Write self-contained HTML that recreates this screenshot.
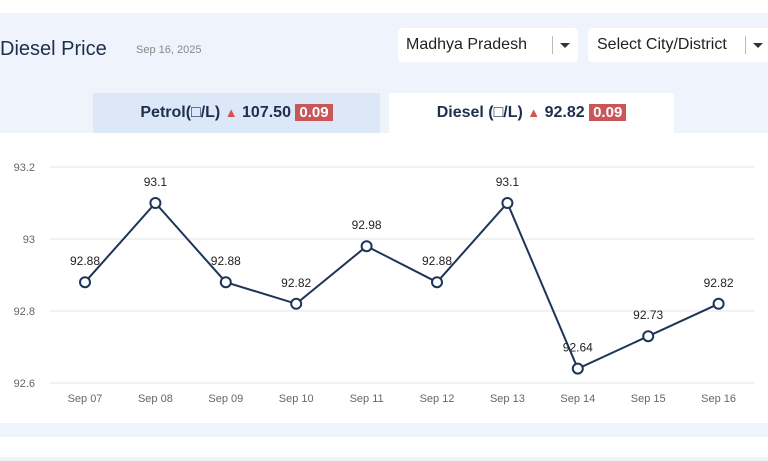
<!DOCTYPE html>
<html><head><meta charset="utf-8"><style>
body{margin:0;width:768px;height:461px;background:#fff;font-family:"Liberation Sans",sans-serif;position:relative;overflow:hidden}
.abs{position:absolute}
</style></head><body>
<div class="abs" style="left:0;top:13px;width:768px;height:120px;background:#eef3fc"></div>
<div class="abs" style="left:0;top:38px;font-size:20px;color:#1d2f4d">Diesel Price</div>
<div class="abs" style="left:136px;top:44px;font-size:11px;color:#888">Sep 16, 2025</div>
<div class="abs" style="left:398px;top:28px;width:180px;height:34px;background:#fff;border-radius:4px">
<span class="abs" style="left:8px;top:8px;font-size:16px;color:#222">Madhya Pradesh</span>
<span class="abs" style="left:154px;top:8px;width:1px;height:18px;background:#bbb"></span>
<span class="abs" style="left:162px;top:15px;border:5px solid transparent;border-top:5px solid #333"></span></div>
<div class="abs" style="left:588px;top:28px;width:185px;height:34px;background:#fff;border-radius:4px">
<span class="abs" style="left:9px;top:8px;font-size:16px;color:#222">Select City/District</span>
<span class="abs" style="left:157px;top:8px;width:1px;height:18px;background:#bbb"></span>
<span class="abs" style="left:165px;top:15px;border:5px solid transparent;border-top:5px solid #333"></span></div>
<div class="abs" style="left:93px;top:93px;width:287px;height:40px;background:#dce7f8;font-size:16px;font-weight:bold;color:#1d2f4d;line-height:40px;text-align:center">Petrol(□/L) <span style="color:#d9534f;font-size:13px">▲</span> 107.50 <span style="background:#c9575a;color:#fff;padding:0 4px;font-size:15px">0.09</span></div>
<div class="abs" style="left:389px;top:93px;width:285px;height:40px;background:#fff;font-size:16px;font-weight:bold;color:#1d2f4d;line-height:40px;text-align:center">Diesel (□/L) <span style="color:#d9534f;font-size:13px">▲</span> 92.82 <span style="background:#c9575a;color:#fff;padding:0 4px;font-size:15px">0.09</span></div>
<div class="abs" style="left:0;top:423px;width:768px;height:14px;background:#eef3fc"></div>
<div class="abs" style="left:0;top:457px;width:768px;height:4px;background:#eef3fc"></div>
<svg class="abs" style="left:0;top:0" width="768" height="461" id="chart"></svg>
<script>
const categories=["Sep 07","Sep 08","Sep 09","Sep 10","Sep 11","Sep 12","Sep 13","Sep 14","Sep 15","Sep 16"];
const values=[92.88,93.1,92.88,92.82,92.98,92.88,93.1,92.64,92.73,92.82];
const ticks=[92.6,92.8,93,93.2];
const svg=document.getElementById('chart');const NS='http://www.w3.org/2000/svg';
const y=v=>383-(v-92.6)/0.6*216;
const x=i=>85+i*70.4;
function mk(t,a,txt){const e=document.createElementNS(NS,t);for(const k in a)e.setAttribute(k,a[k]);if(txt!=null)e.textContent=txt;svg.appendChild(e);return e;}
ticks.forEach(t=>{
const g=mk('line',{x1:50,x2:755,y1:y(t),y2:y(t),stroke:'#e3e6ea','stroke-width':1});


const l=mk('text',{x:35,y:y(t)+4,'text-anchor':'end','font-size':11,fill:'#666','font-family':'Liberation Sans'},String(t));


});
categories.forEach((c,i)=>{
const l=mk('text',{x:x(i),y:402,'text-anchor':'middle','font-size':11,fill:'#666','font-family':'Liberation Sans'},c);


});
const p=mk('polyline',{points:values.map((v,i)=>x(i)+','+y(v)).join(' '),fill:'none',stroke:'#1d3557','stroke-width':2});


values.forEach((v,i)=>{
const c=mk('circle',{cx:x(i),cy:y(v),r:5,fill:'#fff',stroke:'#1d3557','stroke-width':2});


const t=mk('text',{x:x(i),y:y(v)-17,'text-anchor':'middle','font-size':12,fill:'#222','font-family':'Liberation Sans'},String(v));


});
</script>
</body></html>
